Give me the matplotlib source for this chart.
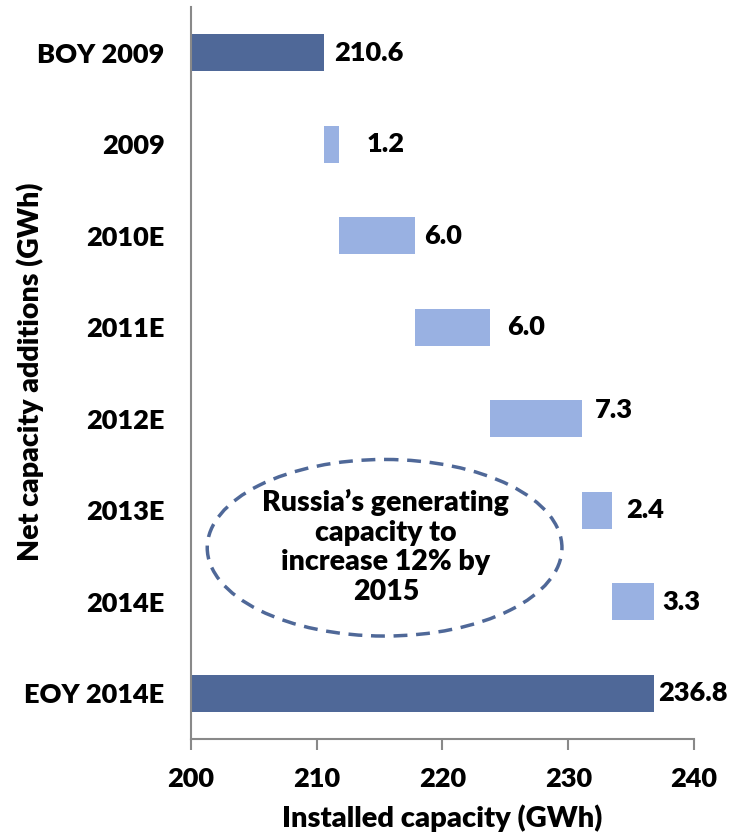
import matplotlib
matplotlib.use('Agg')
import matplotlib.pyplot as plt
from matplotlib.patches import Ellipse

plt.rcParams['font.family'] = ['Lato', 'DejaVu Sans']
plt.rcParams['font.weight'] = 'heavy'

categories = ['BOY 2009', '2009', '2010E', '2011E', '2012E', '2013E', '2014E', 'EOY 2014E']
values = [210.6, 1.2, 6.0, 6.0, 7.3, 2.4, 3.3, 236.8]
labels = ['210.6', '1.2', '6.0', '6.0', '7.3', '2.4', '3.3', '236.8']
is_total = [True, False, False, False, False, False, False, True]

# hand nudges for the value labels (pixels), like the original slide
label_dx = [10, 27, 9, 17, 13, 14, 9, 4]
label_dy = [0, 0, 0, 0, 9, 0, 0, 0]

dark = '#4F6898'
light = '#99B1E2'

# waterfall: start each step where the last one ended
lefts = []
widths = []
running = 0
for v, tot in zip(values, is_total):
    if tot:
        lefts.append(200)
        widths.append(v - 200)
        running = v
    else:
        lefts.append(running)
        widths.append(v)
        running += v

fig = plt.figure(figsize=(7.37, 8.35), dpi=100)
ax = fig.add_axes([0.259, 0.115, 0.6827, 0.8766])

y = list(range(len(categories)))
colors = [dark if t else light for t in is_total]
ax.barh(y, widths, left=lefts, height=0.4, color=colors)

for i in y:
    ax.annotate(labels[i], (lefts[i] + widths[i], i), xytext=(label_dx[i], label_dy[i]),
                textcoords='offset pixels', ha='left', va='center', fontsize=19.5, fontweight='heavy')

ax.set_xlim(200, 240)
ax.set_ylim(len(categories) - 0.5, -0.5)
ax.set_xticks([200, 210, 220, 230, 240])
ax.set_yticks(y)
ax.set_yticklabels(categories)
ax.tick_params(axis='x', direction='out', length=8, width=1.5, color='#898989', labelsize=19.5, pad=12)
ax.tick_params(axis='y', length=0, labelsize=19.5, pad=19)

for s in ['top', 'right']:
    ax.spines[s].set_visible(False)
for s in ['left', 'bottom']:
    ax.spines[s].set_color('#898989')
    ax.spines[s].set_linewidth(1.5)

ax.set_xlabel('Installed capacity (GWh)', fontsize=21, fontweight='heavy', labelpad=10)
fig.text(30 / 737, 1 - 372 / 835, 'Net capacity additions (GWh)', rotation=90,
         ha='center', va='center', fontsize=20.5, fontweight='heavy')

ell = Ellipse((215.4, 5.41), width=28.2, height=1.93, fill=False, edgecolor='#4F6898',
              linewidth=2.5, linestyle=(0, (4, 2.5)))
ax.add_patch(ell)
ax.text(215.5, 5.40, "Russia\u2019s generating\ncapacity to\nincrease 12% by\n2015",
        ha='center', va='center', fontsize=20.5, fontweight='heavy', linespacing=1.17)

fig.savefig('out.png', dpi=100)
